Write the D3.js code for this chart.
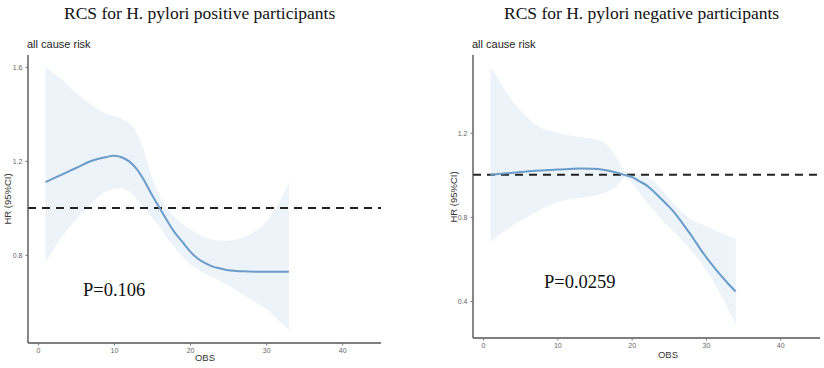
<!DOCTYPE html>
<html><head><meta charset="utf-8">
<script src="https://cdn.jsdelivr.net/npm/d3@7"></script>
<style>body{margin:0;background:#fff}svg{display:block}</style>
</head><body>
<svg id="c" width="824" height="368"></svg>
<script>
// ---- data ----
const posX    = [1,3,5,7,9,10,11,12,13,14,15,16,17,18,19,20,21,22,23,24,25,27,30,33];
const posHR   = [1.11,1.14,1.17,1.20,1.217,1.222,1.216,1.198,1.165,1.115,1.055,1.0,0.945,0.895,0.855,0.815,0.785,0.765,0.75,0.742,0.735,0.73,0.728,0.728];
const posBandX = [1,3,5,7,9,11,12,13,14,15,16,17,18,20,22,24,26,28,30,32,33];
const posUpper = [1.60,1.55,1.49,1.44,1.40,1.38,1.36,1.32,1.24,1.13,1.05,1.0,0.96,0.91,0.875,0.86,0.865,0.89,0.94,1.04,1.11];
const posLower = [0.77,0.87,0.95,1.02,1.07,1.085,1.07,1.04,1.0,0.96,0.92,0.87,0.83,0.76,0.72,0.69,0.65,0.61,0.57,0.51,0.48];

const negX    = [1,4,7,10,13,16,18,19,20,21,22,23,24,25,26,27,28,29,30,31,32,33,34];
const negHR   = [1.0,1.01,1.02,1.025,1.03,1.025,1.01,1.0,0.99,0.97,0.95,0.92,0.885,0.85,0.81,0.762,0.713,0.66,0.61,0.565,0.522,0.482,0.445];
const negBandX = [1,2,3,4,5,6,7,8,10,12,14,16,17,18,19,20,21,22,23,24,26,28,30,32,34];
const negUpper = [1.51,1.46,1.40,1.35,1.31,1.27,1.24,1.22,1.20,1.185,1.175,1.16,1.13,1.08,1.02,1.01,1.0,0.99,0.97,0.93,0.85,0.79,0.755,0.725,0.695];
const negLower = [0.68,0.71,0.735,0.76,0.78,0.80,0.82,0.84,0.87,0.885,0.895,0.91,0.925,0.945,0.985,0.965,0.92,0.87,0.83,0.79,0.72,0.64,0.55,0.43,0.285];

const xTicks = [0,10,20,30,40];
const posYTicks = [0.8,1.2,1.6];
const negYTicks = [0.4,0.8,1.2];
const titles = ["RCS for H. pylori positive participants","RCS for H. pylori negative participants"];
const pLabels = ["P=0.106","P=0.0259"];
const subtitle = "all cause risk";
const xLabel = "OBS", yLabel = "HR (95%CI)";
const refHR = 1.0;

// ---- drawing ----
const svg = d3.select("#c");
const panels = [
  {x0:28, x1:381, y0:55, y1:343, xd:[-1.3,45.1], yd:[0.425,1.651], ticks:posYTicks,
   X:posX, Y:posHR, BX:posBandX, U:posUpper, L:posLower, title:titles[0], titleX:64,
   p:pLabels[0], pX:83, pY:296, xlabX:205, xlabY:361, ylabX:10.5, ylabY:199},
  {x0:473, x1:820, y0:55, y1:338, xd:[-1.35,45.35], yd:[0.224,1.57], ticks:negYTicks,
   X:negX, Y:negHR, BX:negBandX, U:negUpper, L:negLower, title:titles[1], titleX:504,
   p:pLabels[1], pX:544, pY:288, xlabX:668, xlabY:358, ylabX:456.5, ylabY:197}
];

panels.forEach(P => {
  const x = d3.scaleLinear().domain(P.xd).range([P.x0, P.x1]);
  const y = d3.scaleLinear().domain(P.yd).range([P.y1, P.y0]);
  const g = svg.append("g");

  g.append("text").attr("x", P.titleX).attr("y", 19)
    .style("font-family","'Liberation Serif','Times New Roman',serif").style("font-size","17.5px")
    .attr("fill","#111").text(P.title);
  g.append("text").attr("x", P.x0 - 1).attr("y", 48)
    .style("font-family","'Liberation Sans',Arial,sans-serif").style("font-size","11px")
    .attr("fill","#222").text(subtitle);

  const band = P.BX.map((v,i)=>({x:v,u:P.U[i],l:P.L[i]}));
  g.append("path").datum(band)
    .attr("d", d3.area().x(d=>x(d.x)).y0(d=>y(d.l)).y1(d=>y(d.u)).curve(d3.curveMonotoneX))
    .attr("fill","#ecf3f9");

  g.append("line").attr("x1", P.x0).attr("x2", P.x1).attr("y1", y(refHR)).attr("y2", y(refHR))
    .attr("stroke","#222").attr("stroke-width",2).attr("stroke-dasharray","8,6");

  const pts = P.X.map((v,i)=>({x:v,y:P.Y[i]}));
  g.append("path").datum(pts)
    .attr("d", d3.line().x(d=>x(d.x)).y(d=>y(d.y)).curve(d3.curveCatmullRom.alpha(0.5)))
    .attr("fill","none").attr("stroke","#6b9bc9").attr("stroke-width",2);

  const ya = g.append("g").attr("transform",`translate(${P.x0},0)`)
    .call(d3.axisLeft(y).tickValues(P.ticks).tickSize(2.5).tickPadding(3).tickFormat(d3.format(".1f")));
  ya.select(".domain").attr("stroke","#555").attr("stroke-width",1.4).attr("d",`M0,${P.y0}V${P.y1}`);
  ya.selectAll(".tick line").attr("stroke","#777");
  ya.selectAll("text").attr("fill","#666").style("font-size","7px").style("font-family","'Liberation Sans',Arial,sans-serif");

  const xa = g.append("g").attr("transform",`translate(0,${P.y1})`)
    .call(d3.axisBottom(x).tickValues(xTicks).tickSize(2.5).tickPadding(3));
  xa.select(".domain").attr("stroke","#555").attr("stroke-width",1.4).attr("d",`M${P.x0},0H${P.x1}`);
  xa.selectAll(".tick line").attr("stroke","#777");
  xa.selectAll("text").attr("fill","#666").style("font-size","7px").style("font-family","'Liberation Sans',Arial,sans-serif");

  g.append("text").attr("x", P.xlabX).attr("y", P.xlabY).attr("text-anchor","middle")
    .style("font-family","'Liberation Sans',Arial,sans-serif").style("font-size","9.5px").attr("fill","#333").text(xLabel);
  g.append("text").attr("transform",`translate(${P.ylabX},${P.ylabY}) rotate(-90)`).attr("text-anchor","middle")
    .style("font-family","'Liberation Sans',Arial,sans-serif").style("font-size","9.5px").attr("fill","#333").text(yLabel);

  g.append("text").attr("x", P.pX).attr("y", P.pY)
    .style("font-family","'Liberation Serif','Times New Roman',serif").style("font-size","18.5px")
    .attr("fill","#111").text(P.p);
});
</script>
</body></html>
